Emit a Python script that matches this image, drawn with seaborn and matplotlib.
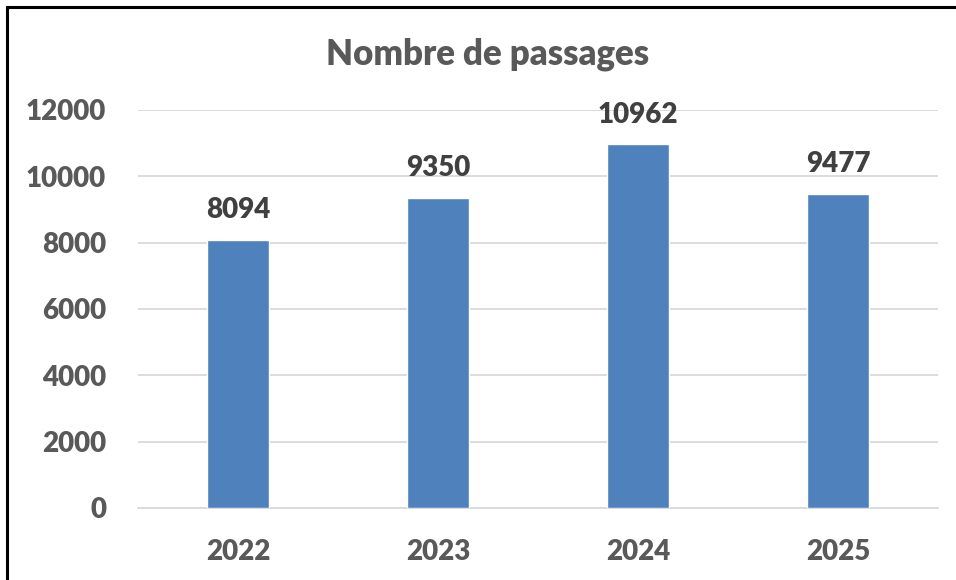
import matplotlib
matplotlib.use("Agg")
import matplotlib.pyplot as plt
import seaborn as sns
import pandas as pd
from matplotlib.patches import Rectangle

years = ["2022", "2023", "2024", "2025"]
passages = [8094, 9350, 10962, 9477]
yticks = [0, 2000, 4000, 6000, 8000, 10000, 12000]

sns.set_theme(style="white")
plt.rcParams['font.family'] = ['Lato', 'DejaVu Sans']

df = pd.DataFrame({"annee": years, "passages": passages})

W, H = 956, 580
fig = plt.figure(figsize=(W / 100, H / 100), dpi=100)
ax = fig.add_axes([138 / W, 1 - 508 / H, (938 - 138) / W, (508 - 110) / H])

sns.barplot(data=df, x="annee", y="passages", color="#4f81bd", saturation=1,
            width=0.31, ax=ax, zorder=3)

ax.set_ylim(0, 12000)
ax.set_xlim(-0.5, 3.5)
ax.set_yticks(yticks)
ax.set_yticklabels([str(t) for t in yticks])
ax.yaxis.grid(True, color="#d9d9d9", linewidth=1.3, zorder=0)
ax.set_axisbelow(True)
for s in ["top", "right", "left"]:
    ax.spines[s].set_visible(False)
ax.spines["bottom"].set_color("#d9d9d9")
ax.spines["bottom"].set_linewidth(1.3)
ax.tick_params(axis="both", length=0, labelsize=20, labelcolor="#595959")
ax.tick_params(axis="y", pad=23)
ax.tick_params(axis="x", pad=22)
for lab in ax.get_xticklabels() + ax.get_yticklabels():
    lab.set_fontweight("heavy")
ax.set_xlabel("")
ax.set_ylabel("")

for i, v in enumerate(passages):
    ax.annotate(str(v), (i, v), xytext=(0, 12), textcoords="offset points",
                ha="center", va="bottom", fontsize=20, fontweight="heavy",
                color="#404040")

fig.text(488 / W, 1 - 54 / H, "Nombre de passages", ha="center", va="center",
         fontsize=25, fontweight="heavy", color="#595959")

fig.patches.append(Rectangle((7 / W, -0.1), 1.2, 1.1 - 7 / H,
                             transform=fig.transFigure, fill=False,
                             edgecolor="black", linewidth=2.2, clip_on=False))

fig.savefig("out.png", dpi=100, facecolor="white")
